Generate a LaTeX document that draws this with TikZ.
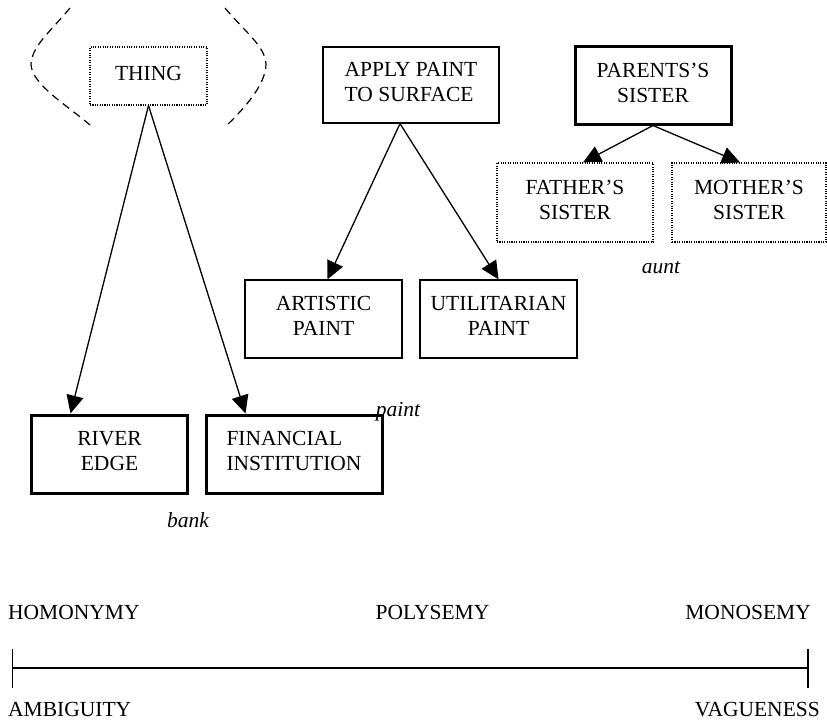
\documentclass[tikz,border=0pt]{standalone}
\usepackage{fontspec}
\setmainfont{Liberation Serif}
\usetikzlibrary{arrows.meta,calc}
% invisible depth that lifts box text slightly above the box centre
\newcommand{\liftpad}{\rule[-6bp]{0pt}{6bp}}
\begin{document}
\begin{tikzpicture}[x=1bp,y=-1bp,
  every node/.style={font=\fontsize{21.5bp}{25bp}\selectfont, inner sep=0pt},
  sensebox/.style={draw, line width=1.3bp, align=center},
  boldbox/.style={draw, line width=3bp, align=center},
  dotbox/.style={draw, line width=1.1bp, dash pattern=on 1.1bp off 1.3bp, align=center},
  link/.style={line width=1.3bp, -{Triangle[length=18bp,width=17bp]}},
  lexeme/.style={font=\fontsize{21.5bp}{25bp}\selectfont\itshape, anchor=base},
  scalelabel/.style={inner sep=0pt},
  fuzzy/.style={dash pattern=on 8bp off 5.5bp, line width=1.2bp}
]
\useasboundingbox (0,0) rectangle (827,720);

% ---- bank: homonymy ----
\node[dotbox, minimum width=117bp, minimum height=58bp] (thing) at (148.5,76) {THING\liftpad};
\node[boldbox, minimum width=155bp, minimum height=78bp] (river) at (109.5,454) {RIVER\\EDGE\liftpad};
\node[boldbox, minimum width=176bp, minimum height=78bp, align=left] (fin) at (294,454) {FINANCIAL\\INSTITUTION\liftpad};
\node[lexeme] (bank) at (188,527) {bank};
\draw[link] (thing.south) -- ([xshift=40bp]river.north west);
\draw[link] (thing.south) -- ([xshift=41bp]fin.north west);
% brackets marking the unrelated senses
\draw[fuzzy] (70,8) .. controls (50,32) and (32,46) .. (31,64)
             .. controls (31,84) and (68,106) .. (90,125);
\draw[fuzzy] (225,8) .. controls (245,32) and (265,46) .. (266,64)
             .. controls (266,84) and (245,108) .. (225,127);

% ---- paint: polysemy ----
\node[sensebox, minimum width=176bp, minimum height=76bp, align=left] (apply) at (411,85) {APPLY PAINT\\TO SURFACE\liftpad};
\coordinate (applyfoot) at ([xshift=-11bp]apply.south);
\node[sensebox, minimum width=157bp, minimum height=78bp] (art) at (323.5,319) {ARTISTIC\\PAINT\liftpad};
\node[sensebox, minimum width=157bp, minimum height=78bp] (util) at (498.5,319) {UTILITARIAN\\PAINT\liftpad};
\node[lexeme] (paint) at (398,416) {paint};
\draw[link] (applyfoot) -- ([xshift=4bp]art.north);
\draw[link] (applyfoot) -- (util.north);

% ---- aunt: monosemy ----
\node[boldbox, minimum width=156bp, minimum height=77bp] (parents) at (653,85.5) {PARENTS’S\\SISTER\liftpad};
\node[dotbox, minimum width=156bp, minimum height=79bp] (father) at (575,202.5) {FATHER’S\\SISTER\liftpad};
\node[dotbox, minimum width=154bp, minimum height=79bp] (mother) at (749,202.5) {MOTHER’S\\SISTER\liftpad};
\node[lexeme] (aunt) at (661,273) {aunt};
\draw[link] (parents.south) -- ([xshift=8bp]father.north);
\draw[link] (parents.south) -- ([xshift=-9bp]mother.north);

% ---- the scale ----
\node[scalelabel, anchor=base west] (homonymy) at (8,619) {HOMONYMY};
\node[scalelabel, anchor=base] (polysemy) at (432.5,619) {POLYSEMY};
\node[scalelabel, anchor=base east] (monosemy) at (811,619) {MONOSEMY};
\node[scalelabel, anchor=base west] (ambiguity) at (8,716) {AMBIGUITY};
\node[scalelabel, anchor=base east] (vagueness) at (820,716) {VAGUENESS};
\coordinate (scaleL) at (12.7,668);
\coordinate (scaleR) at (808,668);
\draw[line width=2bp] (scaleL) -- (scaleR);
\draw[line width=1.3bp] ([yshift=-20bp]scaleL) -- ([yshift=19bp]scaleL);
\draw[line width=1.3bp] ([yshift=-20bp]scaleR) -- ([yshift=19bp]scaleR);
\end{tikzpicture}
\end{document}
